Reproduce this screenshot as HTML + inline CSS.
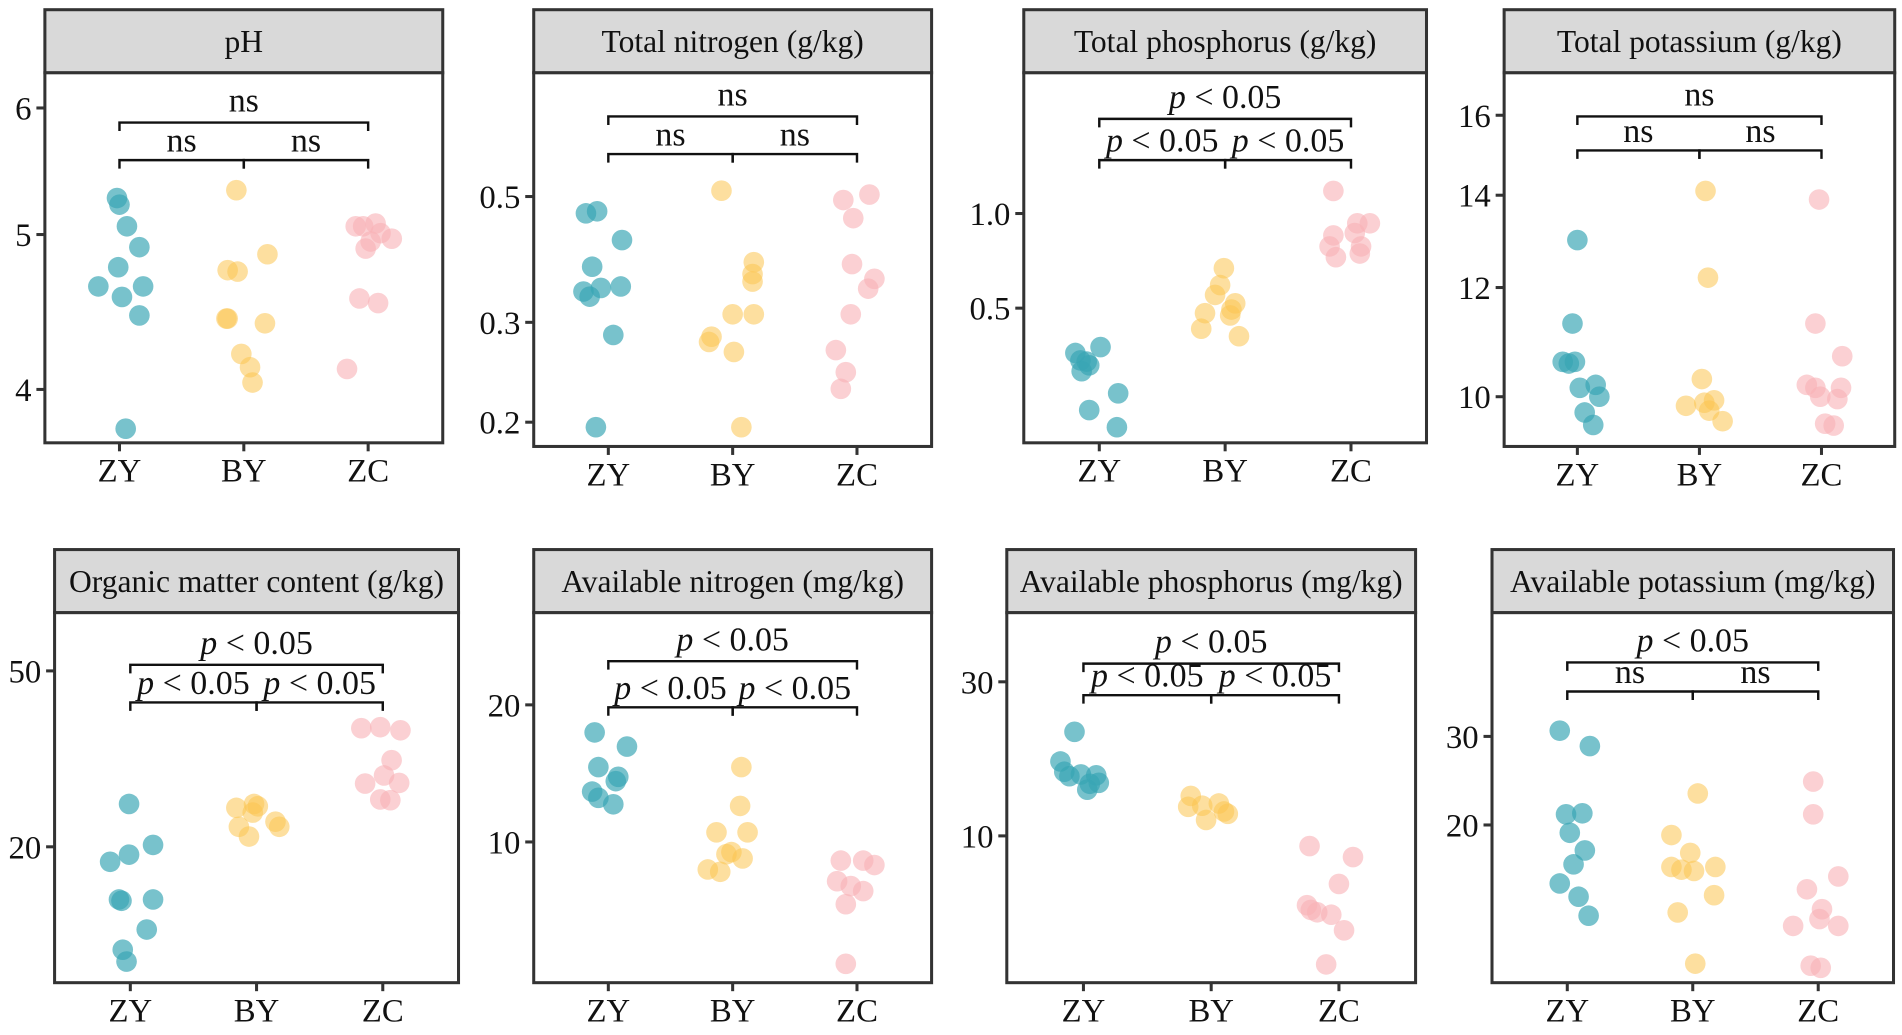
<!DOCTYPE html>
<html><head><meta charset="utf-8"><style>
html,body{margin:0;padding:0;background:#fff;}
svg, svg text{font-family:"Liberation Serif","DejaVu Serif",serif;}
</style></head><body>
<svg id="chart" width="1902" height="1030" viewBox="0 0 1568 849" preserveAspectRatio="none" xmlns="http://www.w3.org/2000/svg"></svg>
<script>
const categories = ["ZY","BY","ZC"];
// pH
const ph_ZY=[5.27,5.22,5.06,4.91,4.77,4.64,4.64,4.57,4.45,3.78];
const ph_jZY=[-0.02,0,0.06,0.16,-0.01,-0.17,0.19,0.02,0.16,0.05];
const ph_BY=[5.33,4.75,4.74,4.86,4.43,4.43,4.40,4.21,4.13,4.04];
const ph_jBY=[-0.06,-0.13,-0.05,0.19,-0.14,-0.13,0.17,-0.02,0.05,0.07];
const ph_ZC=[5.06,5.06,5.08,5.01,4.97,4.95,4.90,4.56,4.53,4.12];
const ph_jZC=[-0.1,-0.04,0.06,0.1,0.19,0.02,-0.02,-0.07,0.08,-0.17];
const ph_ticks=[4,5,6];
// Total nitrogen
const tn_ZY=[0.467,0.471,0.419,0.376,0.347,0.340,0.333,0.285,0.196,0.345];
const tn_jZY=[-0.18,-0.09,0.11,-0.13,0.1,-0.2,-0.15,0.04,-0.1,-0.06];
const tn_BY=[0.512,0.383,0.365,0.354,0.283,0.277,0.31,0.31,0.266,0.196];
const tn_jBY=[-0.09,0.17,0.16,0.16,-0.17,-0.19,0,0.17,0.01,0.07];
const tn_ZC=[0.493,0.504,0.458,0.38,0.358,0.344,0.31,0.268,0.245,0.229];
const tn_jZC=[-0.11,0.1,-0.03,-0.04,0.14,0.09,-0.05,-0.17,-0.09,-0.13];
const tn_ticks=[0.2,0.3,0.5];
// Total phosphorus
const tp_ZY=[0.36,0.376,0.341,0.338,0.329,0.315,0.268,0.237,0.209];
const tp_jZY=[-0.19,0.01,-0.15,-0.1,-0.08,-0.14,0.15,-0.08,0.14];
const tp_BY=[0.67,0.592,0.551,0.518,0.482,0.495,0.474,0.43,0.407];
const tp_jBY=[-0.01,-0.04,-0.08,0.08,-0.16,0.05,0.04,-0.19,0.11];
const tp_ZC=[1.18,0.931,0.931,0.852,0.867,0.786,0.786,0.726,0.746];
const tp_jZC=[-0.14,0.05,0.15,-0.14,0.03,-0.17,0.08,-0.12,0.07];
const tp_ticks=[0.5,1.0];
// Total potassium
const tk_ZY=[12.99,11.3,10.57,10.6,10.2,10.15,10.0,9.74,9.54,10.6];
const tk_jZY=[0,-0.04,-0.07,-0.02,0.15,0.02,0.18,0.06,0.13,-0.12];
const tk_BY=[14.1,12.2,10.3,9.85,9.9,9.94,9.77,9.6];
const tk_jBY=[0.05,0.07,0.02,-0.11,0.04,0.12,0.08,0.19];
const tk_ZC=[13.9,11.3,10.7,10.2,10.15,10.15,10.0,9.96,9.56,9.53];
const tk_jZC=[-0.02,-0.05,0.17,-0.12,-0.05,0.16,-0.01,0.13,0.03,0.1];
const tk_ticks=[10,12,14,16];
// Organic matter
const om_ZY=[25,20.2,19.2,18.5,15.2,15.1,15.2,13,11.7,11];
const om_jZY=[-0.01,0.18,-0.01,-0.16,-0.09,-0.07,0.18,0.13,-0.06,-0.03];
const om_BY=[24.5,25,23.9,24.7,22.8,22.2,22.2,21.1];
const om_jBY=[-0.16,-0.02,-0.03,0.01,0.15,0.18,-0.14,-0.06];
const om_ZC=[37.1,37.3,36.7,31.4,29,27.8,27.9,25.6,25.5];
const om_jZC=[-0.17,-0.02,0.14,0.07,0.01,-0.14,0.13,-0.02,0.06];
const om_ticks=[20,50];
// Available nitrogen
const an_ZY=[17.4,16.2,14.6,13.9,13.6,12.9,12.1,12.5];
const an_jZY=[-0.11,0.15,-0.08,0.08,0.06,-0.13,0.04,-0.08];
const an_BY=[14.6,12,10.5,10.5,9.5,9.2,9.4,8.7,8.6];
const an_jBY=[0.07,0.06,-0.13,0.12,-0.01,0.08,-0.05,-0.2,-0.1];
const an_ZC=[9.1,9.1,8.9,8.2,8.0,7.8,7.3,5.4];
const an_jZC=[-0.13,0.05,0.14,-0.16,-0.05,0.05,-0.09,-0.09];
const an_ticks=[10,20];
// Available phosphorus
const ap_ZY=[21,17,15.3,15.5,15.4,14.6,14.5,13.9,15.8];
const ap_jZY=[-0.07,-0.18,-0.11,-0.02,0.1,0.12,0.05,0.03,-0.15];
const ap_BY=[13.3,12.3,12.4,12.6,11.2,11.9,11.7];
const ap_jBY=[-0.16,-0.18,-0.07,0.06,-0.04,0.1,0.13];
const ap_ZC=[9.3,8.6,7.1,6.1,5.8,5.7,5.9,5.1,4.0];
const ap_jZC=[-0.23,0.11,0,-0.25,-0.17,-0.06,-0.22,0.04,-0.1];
const ap_ticks=[10,30];
// Available potassium
const ak_ZY=[30.8,28.7,21,21.1,19.3,17.8,16.7,15.3,14.4,13.2];
const ak_jZY=[-0.06,0.18,-0.01,0.12,0.02,0.14,0.05,-0.06,0.09,0.17];
const ak_BY=[23.1,19.1,17.6,16.5,16.3,16.2,16.5,14.5,13.4,10.6];
const ak_jBY=[0.04,-0.17,-0.02,-0.17,-0.09,0.01,0.18,0.17,-0.12,0.02];
const ak_ZC=[24.4,21,15.8,14.9,13.6,13.0,12.6,12.6,10.5,10.4];
const ak_jZC=[-0.04,-0.04,0.16,-0.09,0.03,0.01,-0.2,0.16,-0.06,0.02];
const ak_ticks=[20,30];

const NS='http://www.w3.org/2000/svg';
const svg=document.getElementById('chart');
function mk(tag,attrs,parent){const e=document.createElementNS(NS,tag);for(const k in attrs)e.setAttribute(k,attrs[k]);if(tag==='text')e.setAttribute('font-family','Liberation Serif, DejaVu Serif, serif');(parent||svg).appendChild(e);return e;}
const colors=['rgba(56,165,180,0.68)','rgba(252,196,80,0.55)','rgba(249,176,182,0.6)'];

const panels=[
 {key:'ph',title:'pH',x0:37,x1:365,s0:8,s1:60,b:365,a:[6,89],c:[4,321],data:[[ph_ZY,ph_jZY],[ph_BY,ph_jBY],[ph_ZC,ph_jZC]],ticks:ph_ticks,o:101,i:132,lo:'ns',l1:'ns',l2:'ns',fmt:v=>String(v)},
 {key:'tn',title:'Total nitrogen (g/kg)',x0:440,x1:768,s0:8,s1:60,b:368,a:[0.5,162],c:[0.2,348],data:[[tn_ZY,tn_jZY],[tn_BY,tn_jBY],[tn_ZC,tn_jZC]],ticks:tn_ticks,o:96,i:127,lo:'ns',l1:'ns',l2:'ns',fmt:v=>v.toFixed(1)},
 {key:'tp',title:'Total phosphorus (g/kg)',x0:844,x1:1176,s0:8,s1:60,b:365,a:[1.0,176],c:[0.5,254],data:[[tp_ZY,tp_jZY],[tp_BY,tp_jBY],[tp_ZC,tp_jZC]],ticks:tp_ticks,o:98,i:132,lo:'p',l1:'p',l2:'p',fmt:v=>v.toFixed(1)},
 {key:'tk',title:'Total potassium (g/kg)',x0:1240,x1:1562,s0:8,s1:60,b:368,a:[16,95],c:[10,327],data:[[tk_ZY,tk_jZY],[tk_BY,tk_jBY],[tk_ZC,tk_jZC]],ticks:tk_ticks,o:96,i:124,lo:'ns',l1:'ns',l2:'ns',fmt:v=>String(v)},
 {key:'om',title:'Organic matter content (g/kg)',x0:45,x1:378,s0:453,s1:505,b:810,a:[50,553],c:[20,698],data:[[om_ZY,om_jZY],[om_BY,om_jBY],[om_ZC,om_jZC]],ticks:om_ticks,o:548,i:579,lo:'p',l1:'p',l2:'p',fmt:v=>String(v)},
 {key:'an',title:'Available nitrogen (mg/kg)',x0:440,x1:768,s0:453,s1:505,b:810,a:[20,581],c:[10,694],data:[[an_ZY,an_jZY],[an_BY,an_jBY],[an_ZC,an_jZC]],ticks:an_ticks,o:545,i:583,lo:'p',l1:'p',l2:'p',fmt:v=>String(v)},
 {key:'ap',title:'Available phosphorus (mg/kg)',x0:830,x1:1167,s0:453,s1:505,b:810,a:[30,562],c:[10,689],data:[[ap_ZY,ap_jZY],[ap_BY,ap_jBY],[ap_ZC,ap_jZC]],ticks:ap_ticks,o:547,i:573,lo:'p',l1:'p',l2:'p',fmt:v=>String(v)},
 {key:'ak',title:'Available potassium (mg/kg)',x0:1230,x1:1561,s0:453,s1:505,b:810,a:[30,607],c:[20,680],data:[[ak_ZY,ak_jZY],[ak_BY,ak_jBY],[ak_ZC,ak_jZC]],ticks:ak_ticks,o:546,i:570,lo:'p',l1:'ns',l2:'ns',fmt:v=>String(v)}
];

function label(g,x,y,kind,name){
  const t=mk('text',{x:x,y:y,'text-anchor':'middle','font-size':28,fill:'#111'},g);
  
  
  if(kind==='ns'){t.textContent='ns';}
  else{const a=mk('tspan',{'font-style':'italic'},t);a.textContent='p';const b=mk('tspan',{},t);b.textContent=' < 0.05';}
}

panels.forEach(p=>{
  const g=mk('g',{});
  
  
  const w=p.x1-p.x0;
  const xs=k=>p.x0+w*(0.6+k)/3.2;
  const k=(p.c[1]-p.a[1])/Math.log(p.a[0]/p.c[0]);
  const ys=v=>p.a[1]+k*Math.log(p.a[0]/v);
  const st=mk('rect',{x:p.x0,y:p.s0,width:w,height:p.s1-p.s0,fill:'#d9d9d9',stroke:'#333','stroke-width':2.5},g);
  
  
  const tt=mk('text',{x:(p.x0+p.x1)/2,y:(p.s0+p.s1)/2+9,'text-anchor':'middle','font-size':26,fill:'#111'},g);
  tt.textContent=p.title;
  
  
  const bx=mk('rect',{x:p.x0,y:p.s1,width:w,height:p.b-p.s1,fill:'#fff',stroke:'#333','stroke-width':2.5},g);
  
  
  p.ticks.forEach(v=>{
    const y=ys(v);
    mk('line',{x1:p.x0-7,x2:p.x0,y1:y,y2:y,stroke:'#333','stroke-width':2.5},g);
    const t=mk('text',{x:p.x0-11,y:y+9.5,'text-anchor':'end','font-size':27,fill:'#111'},g);
    t.textContent=p.fmt(v);
    
    
  });
  categories.forEach((c,i)=>{
    const x=xs(i);
    mk('line',{x1:x,x2:x,y1:p.b,y2:p.b+7,stroke:'#333','stroke-width':2.5},g);
    const t=mk('text',{x:x,y:p.b+32,'text-anchor':'middle','font-size':27,fill:'#111'},g);
    t.textContent=c;
    
    
  });
  const br=(xa,xb,y)=>{mk('path',{d:`M${xa},${y+7}V${y}H${xb}V${y+7}`,fill:'none',stroke:'#111','stroke-width':2},g);};
  br(xs(0),xs(2),p.o);
  br(xs(0),xs(1),p.i);
  br(xs(1),xs(2),p.i);
  label(g,(xs(0)+xs(2))/2,p.o-9,p.lo,'significance-zy-zc');
  label(g,(xs(0)+xs(1))/2,p.i-7,p.l1,'significance-zy-by');
  label(g,(xs(1)+xs(2))/2,p.i-7,p.l2,'significance-by-zc');
  p.data.forEach((d,ci)=>{
    d[0].forEach((v,j)=>{
      const c=mk('circle',{cx:xs(ci+d[1][j]),cy:ys(v),r:8.5,fill:colors[ci]},g);
      
      
    });
  });
});
</script>
</body></html>
